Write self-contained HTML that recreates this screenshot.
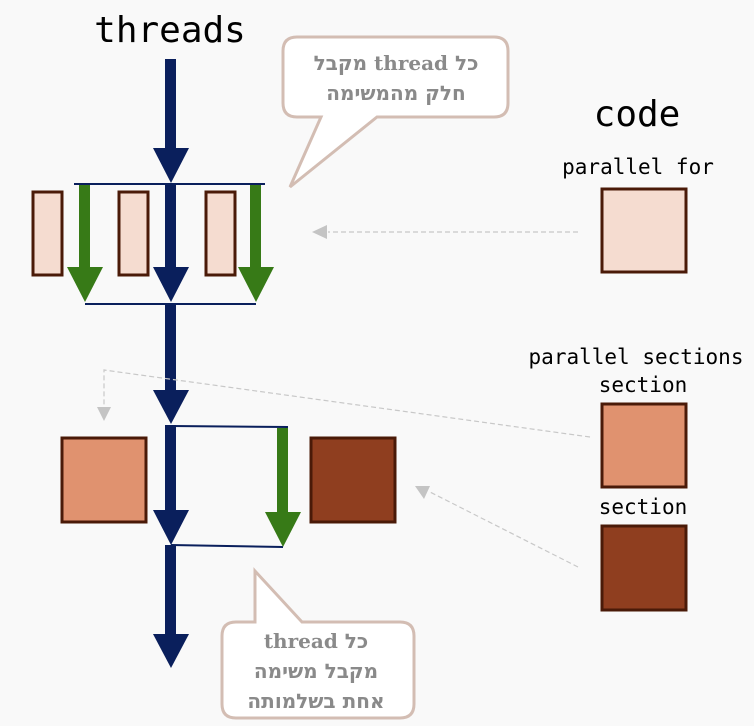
<!DOCTYPE html>
<html><head><meta charset="utf-8"><style>
html,body{margin:0;padding:0;background:#f9f9f9;}
svg{display:block;}
.m{font-family:"DejaVu Sans Mono","Liberation Mono",monospace;fill:#000;}
.h{font-family:"DejaVu Sans","Liberation Sans",sans-serif;font-weight:bold;fill:#8a8a8a;font-size:20px;}
.s{font-family:"DejaVu Serif","Liberation Serif",serif;font-weight:bold;}
</style></head><body>
<svg width="754" height="726" viewBox="0 0 754 726" xmlns="http://www.w3.org/2000/svg">
<rect width="754" height="726" fill="#f9f9f9"/>
<text class="m" x="170" y="42" font-size="36" text-anchor="middle">threads</text>
<text class="m" x="637" y="126" font-size="36" text-anchor="middle">code</text>
<text class="m" x="638" y="174" font-size="21" text-anchor="middle">parallel for</text>
<text class="m" x="636" y="364" font-size="21" text-anchor="middle">parallel sections</text>
<text class="m" x="643" y="392" font-size="21" text-anchor="middle">section</text>
<text class="m" x="643" y="514" font-size="21" text-anchor="middle">section</text>
<g stroke="#4a1a08" stroke-width="3">
<rect x="602" y="189" width="84" height="83" fill="#f5dcd0"/>
<rect x="602" y="404" width="84" height="83" fill="#e0926f"/>
<rect x="602" y="526" width="84" height="84" fill="#8f3e1f"/>
<rect x="33" y="192" width="29" height="83" fill="#f5dcd0"/>
<rect x="119" y="192" width="29" height="83" fill="#f5dcd0"/>
<rect x="206" y="192" width="29" height="83" fill="#f5dcd0"/>
<rect x="62" y="438" width="84" height="84" fill="#e0926f"/>
<rect x="311" y="438" width="84" height="84" fill="#8f3e1f"/>
</g>
<g stroke="#0a1f5c" stroke-width="2" fill="none">
<line x1="74" y1="184" x2="265" y2="184"/>
<line x1="85" y1="304" x2="256" y2="304"/>
<line x1="171" y1="426" x2="288" y2="427"/>
<line x1="171" y1="545" x2="283" y2="547"/>
</g>
<g fill="#0a1f5c">
<rect x="165" y="59" width="11" height="90"/><polygon points="153,148 189,148 171,183"/>
<rect x="165" y="184" width="11" height="84"/><polygon points="153,267 189,267 171,302"/>
<rect x="165" y="303" width="11" height="88"/><polygon points="153,390 189,390 171,424"/>
<rect x="165" y="425" width="11" height="86"/><polygon points="153,510 189,510 171,545"/>
<rect x="165" y="545" width="11" height="90"/><polygon points="153,634 189,634 171,668"/>
</g>
<g fill="#377a17">
<rect x="79" y="185" width="11" height="83"/><polygon points="67,267 103,267 85,302"/>
<rect x="250" y="185" width="11" height="83"/><polygon points="238,267 274,267 256,302"/>
<rect x="277" y="428" width="11" height="85"/><polygon points="265,512 301,512 283,547"/>
</g>
<g stroke="#c8c8c8" stroke-width="1.2" stroke-dasharray="5,3" fill="none">
<line x1="578" y1="232" x2="328" y2="232"/>
<polyline points="590,437 104,370 104,408"/>
<line x1="578" y1="567" x2="430" y2="492"/>
</g>
<g fill="#c4c4c4">
<polygon points="312,232 327,225 327,239"/>
<polygon points="97,407 111,407 104,421"/>
<polygon points="415,486 430,486 424,499"/>
</g>
<path d="M297,37 H494 Q508,37 508,51 V103 Q508,117 494,117 H377 L290,187 L321,117 H297 Q283,117 283,103 V51 Q283,37 297,37 Z" fill="#fff" stroke="#d3bdb3" stroke-width="3"/>
<text class="h" x="396" y="70" text-anchor="middle" direction="rtl">כל <tspan class="s">thread</tspan> מקבל</text>
<text class="h" x="396" y="100" text-anchor="middle" direction="rtl">חלק מהמשימה</text>
<path d="M236,622 H255 V571 L302,622 H400 Q414,622 414,636 V704 Q414,718 400,718 H236 Q222,718 222,704 V636 Q222,622 236,622 Z" fill="#fff" stroke="#d3bdb3" stroke-width="3"/>
<text class="h" x="316" y="648" text-anchor="middle" direction="rtl">כל <tspan class="s">thread</tspan></text>
<text class="h" x="316" y="678" text-anchor="middle" direction="rtl">מקבל משימה</text>
<text class="h" x="316" y="708" text-anchor="middle" direction="rtl">אחת בשלמותה</text>
</svg>
</body></html>
